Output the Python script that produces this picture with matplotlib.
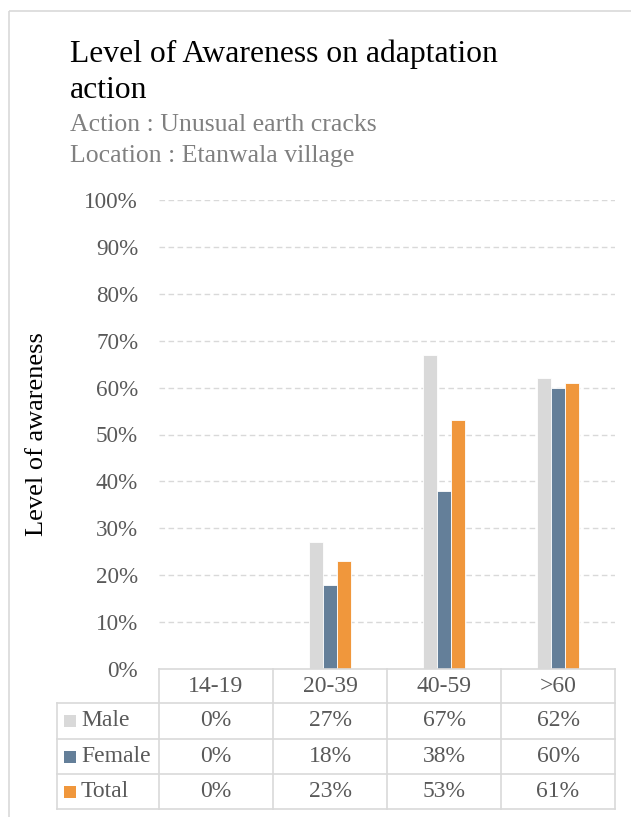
import matplotlib.pyplot as plt
from matplotlib.patches import Rectangle
import numpy as np

plt.rcParams['font.family'] = ['Liberation Serif', 'DejaVu Serif']

# data
age_groups = ['14-19', '20-39', '40-59', '>60']
series_names = ['Male', 'Female', 'Total']
male = [0, 27, 67, 62]
female = [0, 18, 38, 60]
total = [0, 23, 53, 61]
y_ticks = [0, 10, 20, 30, 40, 50, 60, 70, 80, 90, 100]

colors = ['#D9D9D9', '#647F99', '#F0973C']
grid_col = '#D9D9D9'
text_gray = '#595959'

W, H = 631, 817
fig = plt.figure(figsize=(W / 100, H / 100), dpi=100)

# plot area in pixels
left, right, top, bottom = 159, 615, 200, 669
ax = fig.add_axes([left / W, 1 - bottom / H, (right - left) / W, (bottom - top) / H])

x = np.arange(len(age_groups))
bw = 0.125
for i, (vals, c) in enumerate(zip([male, female, total], colors)):
    ax.bar(x + (i - 1) * bw, vals, bw, color=c, edgecolor='white', linewidth=0.6, zorder=3)

ax.set_xlim(-0.5, len(age_groups) - 0.5)
ax.set_ylim(0, 100)
ax.set_yticks(y_ticks)
ax.set_yticklabels([f'{t}%' for t in y_ticks], fontsize=16.7, color=text_gray)
ax.tick_params(axis='y', length=0, pad=15)
ax.set_xticks([])
for t in y_ticks[1:]:
    ax.axhline(t, color=grid_col, linestyle=(0, (4, 2.5)), linewidth=1, zorder=1)
for s in ax.spines.values():
    s.set_visible(False)

# overlay in pixel coordinates for the table, titles and frame
ov = fig.add_axes([0, 0, 1, 1], facecolor='none')
ov.set_xlim(0, W)
ov.set_ylim(H, 0)
ov.axis('off')

ov.add_patch(Rectangle((9, 11), W + 20, H + 20, fill=False, edgecolor='#D9D9D9', linewidth=1.2))

ov.text(70, 62, 'Level of Awareness on adaptation', fontsize=22.8, color='black', va='baseline')
ov.text(70, 98, 'action', fontsize=22.8, color='black', va='baseline')
ov.text(70, 131, 'Action : Unusual earth cracks', fontsize=18.5, color='#808080', va='baseline')
ov.text(70, 162, 'Location : Etanwala village', fontsize=18.5, color='#808080', va='baseline')

ov.text(37, 434, 'Level of awareness', fontsize=19, rotation=90, ha='center', va='center')

# data table under the bars
row_y = [669, 703, 739, 774, 809]
col_x = [left + i * (right - left) / len(age_groups) for i in range(len(age_groups) + 1)]
label_left = 57
lw = 1.2
ov.plot([left, right], [row_y[0], row_y[0]], color=grid_col, lw=lw)
for yy in row_y[1:]:
    ov.plot([label_left, right], [yy, yy], color=grid_col, lw=lw)
for xx in col_x:
    ov.plot([xx, xx], [row_y[0], row_y[-1]], color=grid_col, lw=lw)
ov.plot([label_left, label_left], [row_y[1], row_y[-1]], color=grid_col, lw=lw)

for j, g in enumerate(age_groups):
    cx = (col_x[j] + col_x[j + 1]) / 2
    ov.text(cx, (row_y[0] + row_y[1]) / 2 + 1, g, fontsize=17, color=text_gray, ha='center', va='center')

for i, (name, vals, c) in enumerate(zip(series_names, [male, female, total], colors)):
    cy = (row_y[i + 1] + row_y[i + 2]) / 2
    ov.add_patch(Rectangle((64, cy - 6), 12, 12, facecolor=c, edgecolor='none'))
    ov.text(81, cy, name, fontsize=17, color=text_gray, ha='left', va='center')
    for j, v in enumerate(vals):
        cx = (col_x[j] + col_x[j + 1]) / 2
        ov.text(cx, cy, f'{v}%', fontsize=17, color=text_gray, ha='center', va='center')

fig.savefig('out.png', dpi=100)
